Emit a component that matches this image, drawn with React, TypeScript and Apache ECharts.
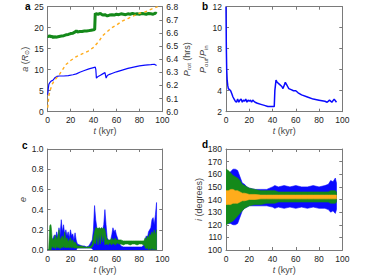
import React, { useEffect, useRef } from "react";
import * as echarts from "echarts";

// ---------- Panel a ----------
const tAGreen = [0, 1, 2, 3, 4, 5, 6, 7, 8, 10, 12, 14, 16, 18, 20, 22, 24, 25, 26, 28, 30, 32, 34, 36, 38, 40, 41, 41.5, 42, 44, 46, 48, 50, 52, 54, 56, 58, 60, 62, 64, 66, 68, 70, 72, 74, 76, 78, 80, 82, 84, 86, 88, 90, 92, 94, 95];
const aGreen = [18.0, 17.9, 18.1, 17.8, 18.0, 17.6, 17.9, 17.7, 17.8, 17.9, 18.0, 18.1, 18.3, 18.4, 18.6, 18.7, 19.0, 19.3, 19.0, 19.1, 19.1, 19.2, 19.2, 19.3, 19.4, 19.5, 19.6, 23.4, 23.3, 23.2, 23.4, 23.0, 23.1, 22.8, 23.0, 23.1, 23.0, 23.2, 23.1, 23.3, 23.2, 23.1, 23.3, 23.2, 23.4, 23.2, 23.3, 23.2, 23.4, 23.3, 23.2, 23.4, 23.3, 23.2, 23.5, 23.3];
const tABlue = [0, 0.5, 1, 2, 3, 4, 5, 6, 8, 10, 14, 18, 22, 25, 28, 32, 36, 40, 41.5, 42, 42.5, 44, 46, 48, 50, 50.5, 51, 52, 54, 56, 60, 65, 70, 75, 80, 85, 90, 93, 95];
const aBlue = [4.0, 5.5, 6.5, 7.0, 7.3, 7.4, 7.6, 8.0, 8.4, 8.5, 8.5, 8.6, 8.8, 9.0, 9.4, 9.8, 10.2, 10.5, 10.6, 10.0, 8.0, 8.4, 8.7, 9.0, 9.3, 8.6, 8.0, 8.6, 8.9, 9.1, 9.5, 9.9, 10.3, 10.6, 10.9, 11.1, 11.2, 11.3, 11.0];
const tAOrange = [0, 1, 2, 4, 6, 8, 10, 13, 16, 20, 25, 30, 35, 40, 42, 45, 48, 52, 56, 60, 65, 70, 75, 80, 85, 90, 96];
const pRot = [6.03, 6.12, 6.16, 6.21, 6.24, 6.26, 6.28, 6.32, 6.36, 6.39, 6.42, 6.44, 6.46, 6.49, 6.51, 6.54, 6.58, 6.61, 6.64, 6.66, 6.69, 6.71, 6.73, 6.75, 6.76, 6.78, 6.80];

// ---------- Panel b ----------
const tB = [0, 0.3, 0.6, 1, 1.5, 2, 3, 4, 5, 6, 7, 8, 9, 10, 11, 12, 13, 14, 15, 16, 17, 18, 19, 20, 21, 22, 23, 24, 25, 27, 30, 33, 36, 38, 40, 41.5, 42, 43, 44, 46, 48, 49, 50, 51, 52, 53, 54, 56, 58, 60, 62, 65, 70, 75, 80, 85, 87, 89, 91, 93, 95];
const pRatio = [12, 8, 6, 5, 4.5, 4.2, 4.1, 4.0, 3.7, 3.4, 3.2, 3.0, 2.9, 3.2, 2.9, 3.1, 3.2, 2.9, 3.1, 3.0, 3.2, 2.9, 3.1, 3.0, 3.1, 2.9, 3.1, 3.0, 2.9, 2.8, 2.7, 2.6, 2.5, 2.5, 2.5, 2.5, 4.0, 5.0, 4.8, 4.6, 4.4, 4.2, 4.5, 4.8, 4.6, 4.4, 4.2, 4.1, 4.0, 4.0, 3.8, 3.6, 3.4, 3.2, 3.1, 3.0, 2.9, 3.1, 2.9, 3.2, 2.9];

// ---------- Panel c (envelopes of eccentricity) ----------
const tC = [0, 1, 2, 2.5, 3, 3.5, 4, 5, 6, 7, 8, 9, 10, 11, 12, 13, 14, 15, 16, 17, 18, 19, 20, 21, 22, 23, 24, 25, 26, 28, 30, 32, 34, 36, 38, 39, 40, 41, 42, 43, 44, 45, 46, 47, 48, 49, 50, 51, 52, 53, 54, 55, 56, 57, 58, 59, 60, 61, 62, 64, 66, 68, 70, 72, 74, 76, 78, 80, 82, 84, 85, 86, 87, 88, 89, 90, 91, 92, 93, 94, 95];
const eBlueHi = [0, 0, 0.02, 0.05, 0.08, 0.1, 0.08, 0.12, 0.15, 0.1, 0.18, 0.12, 0.22, 0.15, 0.30, 0.18, 0.25, 0.15, 0.2, 0.14, 0.18, 0.12, 0.2, 0.14, 0.16, 0.1, 0.17, 0.1, 0.06, 0.05, 0.04, 0.04, 0.03, 0.04, 0.08, 0.1, 0.2, 0.44, 0.3, 0.22, 0.2, 0.22, 0.2, 0.22, 0.2, 0.25, 0.4, 0.25, 0.12, 0.1, 0.08, 0.1, 0.15, 0.22, 0.18, 0.2, 0.15, 0.12, 0.08, 0.04, 0.03, 0.03, 0.03, 0.03, 0.03, 0.03, 0.03, 0.03, 0.03, 0.05, 0.1, 0.14, 0.12, 0.18, 0.2, 0.22, 0.3, 0.32, 0.25, 0.35, 0.47];
const eBlueLo = [0, 0, 0, 0, 0, 0, 0, 0, 0, 0, 0, 0, 0, 0, 0, 0, 0, 0, 0, 0, 0, 0, 0, 0, 0, 0, 0, 0, 0.02, 0.02, 0.02, 0.02, 0.02, 0.02, 0.02, 0.01, 0, 0, 0, 0, 0, 0, 0, 0, 0, 0, 0, 0, 0, 0, 0, 0, 0, 0, 0, 0, 0, 0, 0, 0, 0, 0, 0, 0, 0, 0, 0, 0, 0, 0, 0, 0, 0, 0, 0, 0, 0, 0, 0, 0, 0];
const eGreenHi = [0, 0, 0.24, 0.25, 0.25, 0.2, 0.12, 0.1, 0.12, 0.15, 0.1, 0.13, 0.2, 0.1, 0.12, 0.14, 0.1, 0.18, 0.1, 0.12, 0.08, 0.1, 0.12, 0.08, 0.1, 0.07, 0.08, 0.06, 0.04, 0.04, 0.04, 0.03, 0.03, 0.03, 0.04, 0.06, 0.12, 0.18, 0.22, 0.22, 0.21, 0.22, 0.21, 0.22, 0.21, 0.22, 0.2, 0.14, 0.1, 0.1, 0.1, 0.1, 0.12, 0.1, 0.1, 0.12, 0.1, 0.1, 0.1, 0.1, 0.09, 0.09, 0.09, 0.09, 0.09, 0.09, 0.09, 0.09, 0.09, 0.09, 0.12, 0.1, 0.14, 0.12, 0.16, 0.14, 0.18, 0.15, 0.2, 0.15, 0.2];
const eGreenLo = [0, 0, 0, 0, 0, 0.02, 0.04, 0.02, 0.03, 0.01, 0.04, 0.02, 0.03, 0.01, 0.03, 0.02, 0.04, 0.02, 0.03, 0.02, 0.03, 0.02, 0.03, 0.02, 0.03, 0.02, 0.02, 0.02, 0.02, 0.02, 0.02, 0.02, 0.02, 0.02, 0.02, 0.03, 0.05, 0.08, 0.06, 0.16, 0.05, 0.17, 0.06, 0.17, 0.08, 0.16, 0.05, 0.06, 0.06, 0.05, 0.07, 0.06, 0.05, 0.07, 0.06, 0.05, 0.06, 0.07, 0.06, 0.06, 0.05, 0.06, 0.06, 0.05, 0.06, 0.06, 0.05, 0.06, 0.06, 0.05, 0.03, 0.01, 0.03, 0, 0.02, 0, 0.02, 0, 0.01, 0, 0];

// ---------- Panel d (envelopes of inclination) ----------
const tD = [0, 2, 4, 6, 8, 10, 12, 14, 16, 18, 20, 25, 30, 35, 40, 42, 45, 50, 55, 60, 65, 70, 75, 80, 85, 88, 90, 92, 94, 95];
const iBlueHi = [160, 161, 162, 164, 164, 163, 158, 153, 152, 150, 149, 148, 148, 148, 150, 151, 150, 151, 150, 151, 150, 150, 151, 150, 151, 152, 155, 154, 157, 153];
const iBlueLo = [122, 121, 121, 120, 120, 121, 126, 131, 133, 134, 135, 135, 135, 135, 134, 133, 134, 133, 134, 133, 134, 133, 134, 133, 133, 132, 130, 131, 129, 132];
const iGreenHi = [164, 163, 161, 159, 158, 157, 155, 152, 151, 150, 149, 148, 147, 147, 147, 147, 146, 146, 146, 146, 146, 146, 146, 146, 146, 146, 147, 147, 147, 146];
const iGreenLo = [120, 121, 122, 123, 125, 127, 129, 131, 133, 134, 135, 136, 136, 137, 137, 137, 138, 138, 138, 138, 138, 138, 138, 138, 138, 138, 137, 137, 137, 138];
const iOrangeHi = [147, 147, 148, 148, 147, 147, 146, 145, 145, 144.5, 144, 144, 143.5, 143.5, 143.5, 143.5, 143.5, 143.5, 143.5, 143.5, 143.5, 143.5, 143.5, 143.5, 143.5, 143.5, 143.5, 143.5, 143.5, 143.5];
const iOrangeLo = [136, 136, 136, 137, 137, 137, 138, 139, 139, 139.5, 140, 140, 140.5, 140.5, 140.5, 140.5, 140.5, 140.5, 140.5, 140.5, 140.5, 140.5, 140.5, 140.5, 140.5, 140.5, 140.5, 140.5, 140.5, 140.5];

const xTicks = [0, 100, 20];

const BLUE = "#0a0aff";
const GREEN = "#14891a";
const ORANGE = "#ffac1c";
const AXIS = "#7a7a7a";
const LABEL = "#222";
const FONT = "Liberation Sans, Arial, Helvetica, sans-serif";

const pairs = (t: number[], v: number[]) => t.map((x, i) => [x, v[i]]);

const rich = {
  i: { fontStyle: "italic", fontSize: 9, fontFamily: FONT, color: "#444", lineHeight: 11 },
  n: { fontSize: 9, fontFamily: FONT, color: "#444", lineHeight: 11 },
  s: { fontSize: 6, fontFamily: FONT, color: "#444", lineHeight: 6, verticalAlign: "bottom", padding: [4, 0, 0, 0] },
};

// Band between lo and hi envelopes, drawn via the axes' own scales (api.coord)
function band(xi: number, yi: number, t: number[], lo: number[], hi: number[], color: string) {
  return {
    type: "custom",
    xAxisIndex: xi,
    yAxisIndex: yi,
    data: pairs(t, hi),
    clip: true,
    silent: true,
    renderItem: (params: any, api: any) => {
      if (params.dataIndex !== 0) return null;
      const top = t.map((x, i) => api.coord([x, hi[i]]));
      const bot = t.map((x, i) => api.coord([x, lo[i]])).reverse();
      return {
        type: "polygon",
        shape: { points: top.concat(bot) },
        style: { fill: color, stroke: color, lineWidth: 0.6 },
      };
    },
  };
}

function xAxes(gi: number) {
  const common = {
    gridIndex: gi,
    type: "value",
    min: xTicks[0],
    max: xTicks[1],
    interval: xTicks[2],
    axisLine: { show: true, onZero: false, lineStyle: { color: AXIS, width: 1 } },
    axisTick: { show: true, inside: true, length: 3, lineStyle: { color: AXIS } },
    splitLine: { show: false },
  };
  return [
    {
      ...common,
      position: "bottom",
      axisLabel: { fontSize: 8.5, color: LABEL, fontFamily: FONT, margin: 4 },
      name: "{i|t}{n| (kyr)}",
      nameLocation: "middle",
      nameGap: 14,
      nameTextStyle: { rich },
    },
    { ...common, position: "top", axisLabel: { show: false } },
  ];
}

function yAxis(gi: number, min: number, max: number, interval: number, pos: string, opts: any = {}) {
  return {
    gridIndex: gi,
    type: "value",
    min,
    max,
    interval,
    position: pos,
    axisLine: { show: true, onZero: false, lineStyle: { color: AXIS, width: 1 } },
    axisTick: { show: true, inside: true, length: 3, lineStyle: { color: AXIS } },
    splitLine: { show: false },
    axisLabel: { show: false },
    ...opts,
  };
}

const labelStyle = (fmt?: (v: number) => string) => ({
  show: true,
  fontSize: 8.5,
  color: LABEL,
  fontFamily: FONT,
  margin: 4,
  formatter: fmt,
});

export default function App() {
  const ref = useRef<HTMLDivElement>(null);
  useEffect(() => {
    if (!ref.current) return;
    const chart = echarts.init(ref.current, null, { renderer: "svg" });
    const f1 = (v: number) => v.toFixed(1);
    const option: any = {
      animation: false,
      backgroundColor: "#fff",
      grid: [
        { left: 47.7, top: 6.7, width: 114.6, height: 105 },
        { left: 226, top: 6.7, width: 116.3, height: 105 },
        { left: 47.5, top: 149, width: 114.8, height: 102 },
        { left: 226, top: 149, width: 116.3, height: 102 },
      ],
      xAxis: [...xAxes(0), ...xAxes(1), ...xAxes(2), ...xAxes(3)],
      yAxis: [
        yAxis(0, 0, 25, 5, "left", {
          axisLabel: labelStyle(),
          name: "{i|a}{n| (}{i|R}{s|⊙}{n|)}",
          nameLocation: "middle",
          nameGap: 17,
          nameRotate: 90,
          nameTextStyle: { rich },
        }),
        yAxis(0, 6.0, 6.8, 0.1, "right", {
          axisLabel: labelStyle(f1),
          name: "{i|P}{s|rot}{n| (hrs)}",
          nameLocation: "middle",
          nameGap: 18,
          nameRotate: 90,
          nameTextStyle: { rich },
        }),
        yAxis(1, 2, 12, 2, "left", {
          axisLabel: labelStyle(),
          name: "{i|P}{s|out}{n|/}{i|P}{s|in}",
          nameLocation: "middle",
          nameGap: 13,
          nameRotate: 90,
          nameTextStyle: { rich },
        }),
        yAxis(1, 2, 12, 2, "right"),
        yAxis(2, 0, 1, 0.2, "left", {
          axisLabel: labelStyle(f1),
          name: "{i|e}",
          nameLocation: "middle",
          nameGap: 19,
          nameRotate: 90,
          nameTextStyle: { rich },
        }),
        yAxis(2, 0, 1, 0.2, "right"),
        yAxis(3, 100, 180, 10, "left", {
          axisLabel: labelStyle(),
          name: "{i|i}{n| (degrees)}",
          nameLocation: "middle",
          nameGap: 17,
          nameRotate: 90,
          nameTextStyle: { rich },
        }),
        yAxis(3, 100, 180, 10, "right"),
      ],
      series: [
        {
          type: "line",
          xAxisIndex: 0,
          yAxisIndex: 0,
          data: pairs(tAGreen, aGreen),
          showSymbol: false,
          lineStyle: { color: GREEN, width: 3 },
        },
        {
          type: "line",
          xAxisIndex: 0,
          yAxisIndex: 0,
          data: pairs(tABlue, aBlue),
          showSymbol: false,
          lineStyle: { color: BLUE, width: 1.2 },
        },
        {
          type: "line",
          xAxisIndex: 0,
          yAxisIndex: 1,
          data: pairs(tAOrange, pRot),
          showSymbol: false,
          lineStyle: { color: ORANGE, width: 1.4, type: [3, 3] },
        },
        {
          type: "line",
          xAxisIndex: 2,
          yAxisIndex: 2,
          data: pairs(tB, pRatio),
          showSymbol: false,
          lineStyle: { color: BLUE, width: 1.5 },
        },
        band(4, 4, tC, eBlueLo, eBlueHi, BLUE),
        band(4, 4, tC, eGreenLo, eGreenHi, GREEN),
        band(6, 6, tD, iBlueLo, iBlueHi, BLUE),
        band(6, 6, tD, iGreenLo, iGreenHi, GREEN),
        band(6, 6, tD, iOrangeLo, iOrangeHi, ORANGE),
      ],
      graphic: [
        { type: "text", left: 25, top: 1, style: { text: "a", font: `bold 10px ${FONT}`, fill: "#000" } },
        { type: "text", left: 202, top: 1, style: { text: "b", font: `bold 10px ${FONT}`, fill: "#000" } },
        { type: "text", left: 22, top: 140, style: { text: "c", font: `bold 10px ${FONT}`, fill: "#000" } },
        { type: "text", left: 202, top: 139, style: { text: "d", font: `bold 10px ${FONT}`, fill: "#000" } },
      ],
    };
    chart.setOption(option);
    return () => chart.dispose();
  }, []);
  return (
    <div
      ref={ref}
      style={{ position: "absolute", left: 0, top: 0, width: 380, height: 275, background: "#fff" }}
    />
  );
}
